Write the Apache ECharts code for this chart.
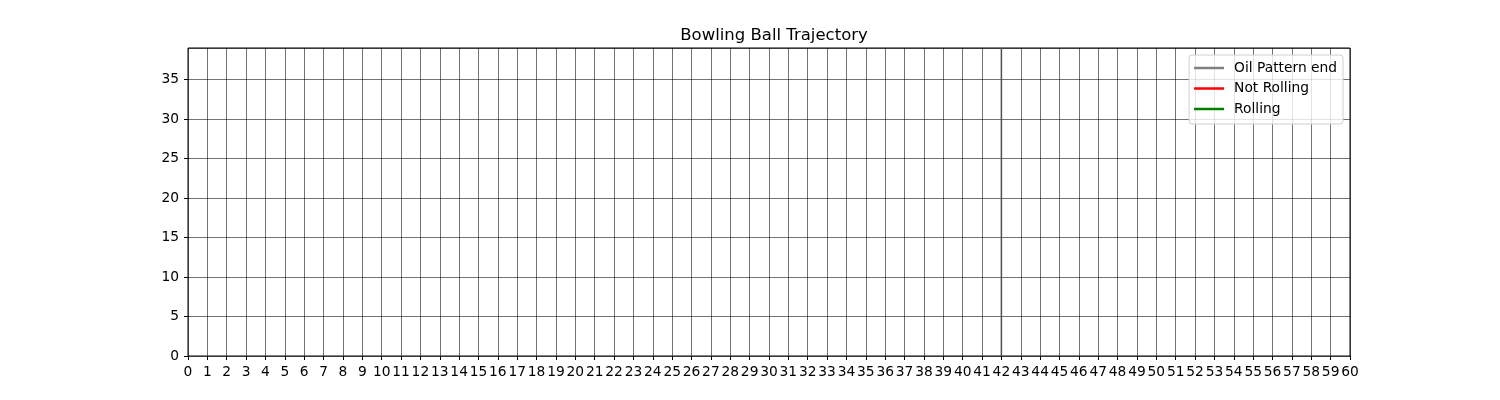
<!DOCTYPE html>
<html>
<head>
<meta charset="utf-8">
<script src="https://cdn.jsdelivr.net/npm/echarts@6/dist/echarts.min.js"></script>
<style>html,body{margin:0;padding:0;background:#fff}#c{width:1500px;height:400px}</style>
</head>
<body>
<div id="c"></div>
<script>
const xRange = [0, 60];
const yRange = [0, 39];
const yTickStep = 5;
const oilPatternEnd = [[42, 0], [42, 39]];
const notRolling = [];
const rolling = [];
const seriesNames = ['Oil Pattern end', 'Not Rolling', 'Rolling'];

const font = 'DejaVu Sans';
const chart = echarts.init(document.getElementById('c'), null, {renderer: 'canvas'});
chart.setOption({
  animation: false,
  backgroundColor: '#fff',
  title: {
    text: 'Bowling Ball Trajectory',
    left: 769, top: 22, textAlign: 'center',
    textStyle: {fontFamily: font, fontSize: 16.5, fontWeight: 'normal', color: '#000'}
  },
  legend: {
    right: 157, top: 55,
    orient: 'vertical',
    padding: [6, 6, 8, 5],
    itemGap: 6.5,
    itemWidth: 30, itemHeight: 2.5,
    backgroundColor: 'rgba(255,255,255,0.8)',
    borderColor: '#d0d0d0', borderWidth: 1, borderRadius: 3,
    textStyle: {fontFamily: font, fontSize: 13.8, color: '#000', padding: [0,0,0,5]},
    data: [
      {name: seriesNames[0], icon: 'rect', itemStyle: {color: '#808080'}},
      {name: seriesNames[1], icon: 'rect', itemStyle: {color: '#ff0000'}},
      {name: seriesNames[2], icon: 'rect', itemStyle: {color: '#008000'}}
    ]
  },
  grid: {
    left: 188, right: 150, top: 48, bottom: 44,
    show: true, borderColor: '#000', borderWidth: 1, backgroundColor: 'transparent'
  },
  xAxis: {
    type: 'value', min: xRange[0], max: xRange[1], interval: 1,
    axisLine: {show: false},
    axisTick: {show: true, length: 4, lineStyle: {color: '#000'}},
    axisLabel: {interval: 0, fontFamily: font, fontSize: 13.8, color: '#000', margin: 9},
    splitLine: {show: true, lineStyle: {color: 'rgba(0,0,0,0.55)', width: 1}}
  },
  yAxis: {
    type: 'value', min: yRange[0], max: yRange[1], interval: yTickStep,
    axisLine: {show: false},
    axisTick: {show: true, length: 4, lineStyle: {color: '#000'}},
    axisLabel: {showMaxLabel: false, fontFamily: font, fontSize: 13.8, color: '#000', margin: 9,
      formatter: v => (v % yTickStep === 0 ? String(v) : '')},
    splitLine: {show: true, lineStyle: {color: 'rgba(0,0,0,0.55)', width: 1}}
  },
  series: [
    {name: seriesNames[0], type: 'line', data: oilPatternEnd, symbol: 'none',
      lineStyle: {color: '#505050', width: 1.5}, itemStyle: {color: '#808080'}, z: 3},
    {name: seriesNames[1], type: 'line', data: notRolling, symbol: 'none',
      lineStyle: {color: '#ff0000', width: 2}, itemStyle: {color: '#ff0000'}},
    {name: seriesNames[2], type: 'line', data: rolling, symbol: 'none',
      lineStyle: {color: '#008000', width: 2}, itemStyle: {color: '#008000'}}
  ]
});
</script>
</body>
</html>
